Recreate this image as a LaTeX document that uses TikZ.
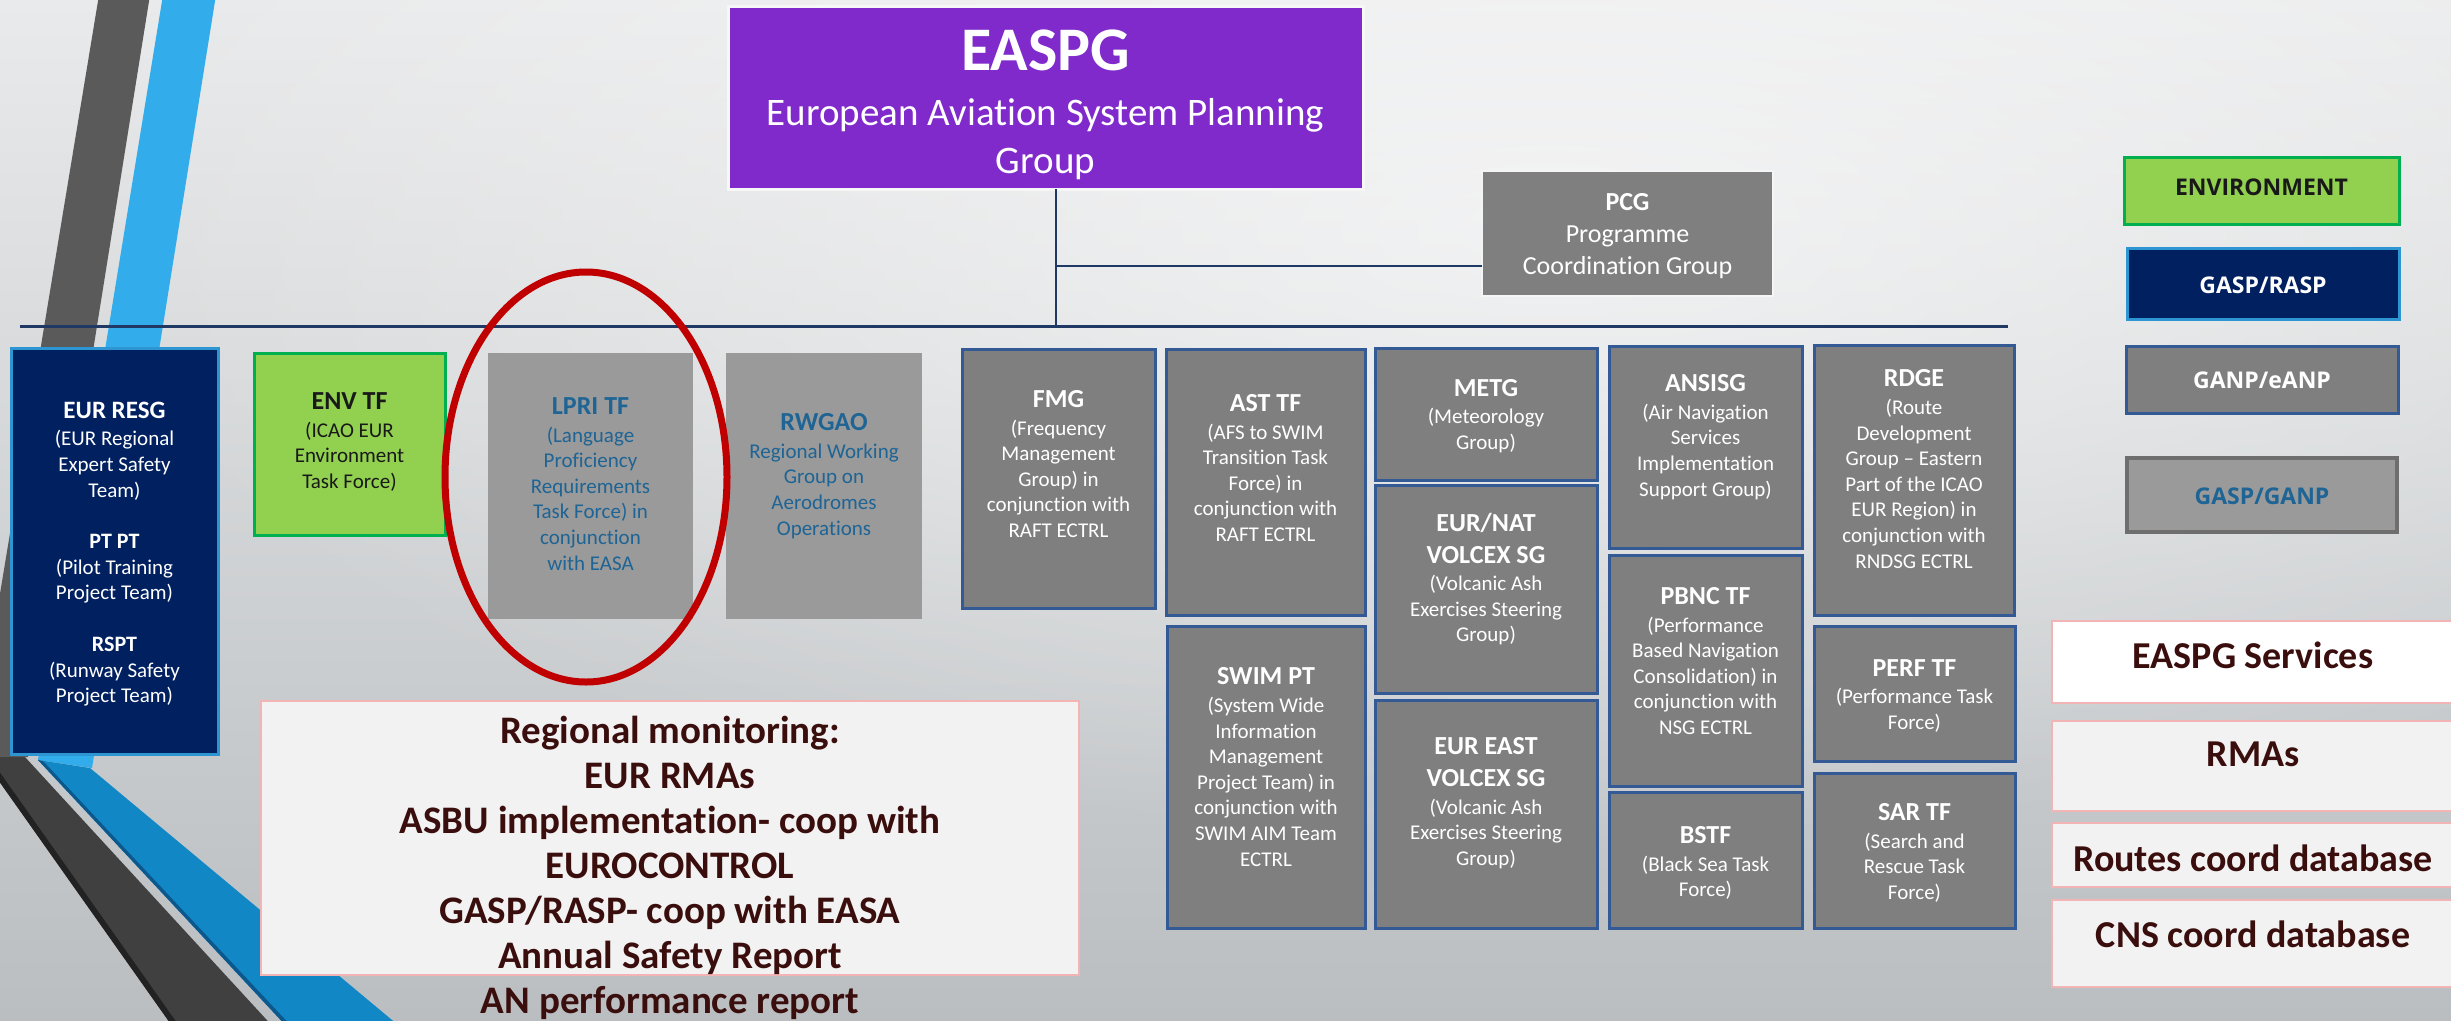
\documentclass[tikz,border=0pt]{standalone}
\usepackage{fontspec}
\setmainfont{Carlito}[Ligatures=NoCommon]
\newfontfamily\legendfont{Open Sans}
\usetikzlibrary{fadings,shapes.geometric}

\definecolor{bgtop}{RGB}{233,234,235}
\definecolor{bgmid}{RGB}{222,224,225}
\definecolor{bgbot}{RGB}{186,190,193}
\definecolor{stripegray}{RGB}{90,90,90}
\definecolor{stripedark}{RGB}{64,64,64}
\definecolor{stripeblack}{RGB}{34,34,34}
\definecolor{stripesky}{RGB}{50,172,234}
\definecolor{stripeblue}{RGB}{18,135,198}
\definecolor{stripedeep}{RGB}{12,88,140}
\definecolor{purplebox}{RGB}{128,42,204}
\definecolor{navybox}{RGB}{0,32,96}
\definecolor{navyedge}{RGB}{46,149,211}
\definecolor{greenbox}{RGB}{146,208,80}
\definecolor{greenedge}{RGB}{0,176,80}
\definecolor{boxgray}{RGB}{127,127,127}
\definecolor{boxedge}{RGB}{52,90,150}
\definecolor{palegray}{RGB}{154,154,154}
\definecolor{paleedge}{RGB}{110,110,110}
\definecolor{steeltext}{RGB}{30,100,148}
\definecolor{browntext}{RGB}{59,14,14}
\definecolor{pinkedge}{RGB}{242,180,180}
\definecolor{ringred}{RGB}{192,0,0}
\definecolor{busnavy}{RGB}{31,56,100}
\definecolor{paper}{RGB}{242,242,242}

\tikzfading[name=softglow, inner color=transparent!0, outer color=transparent!100]

\newcommand\boxtitle[1]{{\fontsize{26}{30}\selectfont\bfseries #1}}
\newcommand\subtitle[1]{{\fontsize{22}{26}\selectfont\bfseries #1}}

\tikzset{
  every node/.style={inner sep=0pt, outer sep=0pt},
  panel/.style={rectangle, inner sep=0pt, outer sep=0pt},
  graybox/.style={panel, fill=boxgray, draw=boxedge, line width=3pt},
  palebox/.style={panel, fill=palegray},
  navypanel/.style={panel, fill=navybox, draw=navyedge, line width=3pt},
  greenpanel/.style={panel, fill=greenbox, draw=greenedge, line width=3pt},
  paperbox/.style={panel, fill=paper, draw=pinkedge, line width=2pt},
  bodytext/.style={align=center, font=\fontsize{21}{25.6}\selectfont},
  whitetext/.style={bodytext, text=white},
  steeltxt/.style={bodytext, text=steeltext},
  legendtext/.style={align=center, font=\legendfont\fontsize{23}{28}\selectfont\bfseries},
  servicetext/.style={align=center, text=browntext, font=\fontsize{38}{44}\selectfont\bfseries},
  busline/.style={draw=busnavy, line width=3pt},
  trunkline/.style={draw=busnavy, line width=2pt},
}

\begin{document}
\begin{tikzpicture}[x=1pt,y=-1pt]
\useasboundingbox (0,0) rectangle (2451,1020);

% backdrop
\shade[top color=bgtop, middle color=bgmid, bottom color=bgbot] (0,0) rectangle (2451,1020);
\fill[white, path fading=softglow, fill opacity=0.6] (1550,230) ellipse [x radius=1500pt, y radius=620pt];

% slanted ribbons on the left edge
\begin{scope}
\clip (0,0) rectangle (2451,1020);
\fill[stripegray] (99,-5) -- (150,-5) -- (28,757) -- (-27,757) -- cycle;
\fill[stripesky] (163,-5) -- (216,-5) -- (92,768) -- (38,760) -- cycle;
\fill[stripedark] (-18,757) -- (25,757) -- (276,1030) -- (175,1030) -- cycle;
\fill[stripeblack] (-18,757) -- (-11,757) -- (182,1030) -- (175,1030) -- cycle;
\fill[stripeblue] (38,760) -- (90,768) -- (404,1030) -- (290,1030) -- cycle;
\fill[stripedeep] (38,760) -- (43,761) -- (295,1030) -- (290,1030) -- cycle;
\end{scope}

% head of the organisation
\node[panel, fill=purplebox, draw=white!94!gray, line width=3pt,
      minimum width=635pt, minimum height=183pt] (easpg) at (1045.5,97.5) {};
\node[align=center, text=white, font=\fontsize{39}{48}\selectfont] (easpg-t) at (1045.5,105)
  {{\fontsize{62}{70}\selectfont\bfseries EASPG}\\[7pt]European Aviation System Planning\\Group};

\node[panel, fill=boxgray, draw=white!92!gray, line width=2pt,
      minimum width=291pt, minimum height=125pt] (pcg) at (1627.5,233.5) {};
\node[align=center, text=white, font=\fontsize{26}{32}\selectfont] (pcg-t) at (1627.5,236)
  {\textbf{PCG}\\Programme\\Coordination Group};

% connectors
\coordinate (bus-west) at (20,326);
\coordinate (bus-east) at (2008,326);
\coordinate (trunk) at (1056,326);
\coordinate (branch) at (1056,266);
\draw[trunkline] (trunk |- easpg.south) -- (trunk);
\draw[trunkline] (branch) -- (branch -| pcg.west);
\draw[busline] (bus-west) -- (bus-east);

% safety column
\node[navypanel, minimum width=207pt, minimum height=406pt] (resg) at (114.5,551) {};
\node[whitetext] (resg-t) at (114.5,554)
  {{\fontsize{25}{30}\selectfont\bfseries EUR RESG}\\[2pt](EUR Regional\\Expert Safety\\Team)\\[26pt]
   \subtitle{PT PT}\\(Pilot Training\\Project Team)\\[26pt]
   \subtitle{RSPT}\\(Runway Safety\\Project Team)};

% environment
\node[greenpanel, minimum width=191pt, minimum height=182pt] (envtf) at (349.5,444) {};
\node[bodytext, text=black!90] (envtf-t) at (349.5,442)
  {\boxtitle{ENV TF}\\[2pt](ICAO EUR\\Environment\\Task Force)};

% safety / air navigation groups
\node[palebox, minimum width=205pt, minimum height=266pt] (lpri) at (590.5,486) {};
\node[steeltxt] (lpri-t) at (590.5,484)
  {\boxtitle{LPRI TF}\\[2pt](Language\\Proficiency\\Requirements\\Task Force) in\\conjunction\\with EASA};

\node[palebox, minimum width=196pt, minimum height=266pt] (rwgao) at (824,486) {};
\node[steeltxt] (rwgao-t) at (824,476)
  {\boxtitle{RWGAO}\\[2pt]Regional Working\\Group on\\Aerodromes\\Operations};

\node[ellipse, draw=ringred, line width=7pt, minimum width=282pt, minimum height=410pt] (lpri-ring) at (586,477) {};

% air navigation groups
\node[graybox, minimum width=193pt, minimum height=259pt] (fmg) at (1058.5,478.5) {};
\node[whitetext] (fmg-t) at (1058.5,464)
  {\boxtitle{FMG}\\[2pt](Frequency\\Management\\Group) in\\conjunction with\\RAFT ECTRL};

\node[graybox, minimum width=199pt, minimum height=266pt] (asttf) at (1265.5,482) {};
\node[whitetext] (asttf-t) at (1265.5,468)
  {\boxtitle{AST TF}\\[2pt](AFS to SWIM\\Transition Task\\Force) in\\conjunction with\\RAFT ECTRL};

\node[graybox, minimum width=198pt, minimum height=302pt] (swim) at (1266,777) {};
\node[whitetext] (swim-t) at (1266,767)
  {\boxtitle{SWIM PT}\\[2pt](System Wide\\Information\\Management\\Project Team) in\\conjunction with\\SWIM AIM Team\\ECTRL};

\node[graybox, minimum width=222pt, minimum height=132pt] (metg) at (1486,414) {};
\node[whitetext] (metg-t) at (1486,416)
  {\boxtitle{METG}\\[2pt](Meteorology\\Group)};

\node[graybox, minimum width=222pt, minimum height=208pt] (eurnat) at (1486,589) {};
\node[whitetext] (eurnat-t) at (1486,579)
  {\boxtitle{EUR/NAT}\\[6.4pt]\boxtitle{VOLCEX SG}\\[2pt](Volcanic Ash\\Exercises Steering\\Group)};

\node[graybox, minimum width=222pt, minimum height=228pt] (eureast) at (1486,814) {};
\node[whitetext] (eureast-t) at (1486,803)
  {\boxtitle{EUR EAST}\\[6.4pt]\boxtitle{VOLCEX SG}\\[2pt](Volcanic Ash\\Exercises Steering\\Group)};

\node[graybox, minimum width=193pt, minimum height=202pt] (ansisg) at (1705.5,447) {};
\node[whitetext] (ansisg-t) at (1705.5,437)
  {\boxtitle{ANSISG}\\[2pt](Air Navigation\\Services\\Implementation\\Support Group)};

\node[graybox, minimum width=193pt, minimum height=231pt] (pbnc) at (1705.5,670.5) {};
\node[whitetext] (pbnc-t) at (1705.5,661)
  {\boxtitle{PBNC TF}\\[2pt](Performance\\Based Navigation\\Consolidation) in\\conjunction with\\NSG ECTRL};

\node[graybox, minimum width=193pt, minimum height=136pt] (bstf) at (1705.5,860) {};
\node[whitetext] (bstf-t) at (1705.5,863)
  {\boxtitle{BSTF}\\[2pt](Black Sea Task\\Force)};

\node[graybox, minimum width=200pt, minimum height=270pt] (rdge) at (1914,480) {};
\node[whitetext] (rdge-t) at (1914,469)
  {\boxtitle{RDGE}\\[2pt](Route\\Development\\Group -- Eastern\\Part of the ICAO\\EUR Region) in\\conjunction with\\RNDSG ECTRL};

\node[graybox, minimum width=201pt, minimum height=135pt] (perf) at (1914.5,693.5) {};
\node[whitetext] (perf-t) at (1914.5,696)
  {\boxtitle{PERF TF}\\[2pt](Performance Task\\Force)};

\node[graybox, minimum width=201pt, minimum height=155pt] (sartf) at (1914.5,850.5) {};
\node[whitetext] (sartf-t) at (1914.5,853)
  {\boxtitle{SAR TF}\\[2pt](Search and\\Rescue Task\\Force)};

% regional monitoring
\node[paperbox, minimum width=818pt, minimum height=274pt] (monitor) at (670,838) {};
\node[align=center, text=browntext, font=\fontsize{39}{45}\selectfont\bfseries] (monitor-t) at (670,868)
  {Regional monitoring:\\EUR RMAs\\ASBU implementation- coop with\\EUROCONTROL\\GASP/RASP- coop with EASA\\Annual Safety Report\\AN performance report};

% colour legend
\node[greenpanel, minimum width=275pt, minimum height=67pt] (lg-env) at (2261.5,190.5) {};
\node[legendtext, text=black!90] (lg-env-t) at (2261.5,187) {ENVIRONMENT};
\node[navypanel, minimum width=272pt, minimum height=71pt] (lg-gasp) at (2263,283.5) {};
\node[legendtext, text=white] (lg-gasp-t) at (2263,285) {GASP/RASP};
\node[graybox, minimum width=272pt, minimum height=67pt] (lg-ganp) at (2262,379.5) {};
\node[legendtext, text=white] (lg-ganp-t) at (2262,380) {GANP/eANP};
\node[panel, fill=palegray, draw=paleedge, line width=4pt, minimum width=270pt, minimum height=74pt] (lg-both) at (2262,495) {};
\node[legendtext, text=steeltext] (lg-both-t) at (2262,496) {GASP/GANP};

% services
\node[paperbox, fill=white, minimum width=402pt, minimum height=82pt] (svc) at (2253,662) {};
\node[servicetext] (svc-t) at (2253,655) {EASPG Services};
\node[paperbox, minimum width=402pt, minimum height=90pt] (rmas) at (2253,766) {};
\node[servicetext] (rmas-t) at (2253,754) {RMAs};
\node[paperbox, minimum width=402pt, minimum height=64pt] (routes) at (2253,855) {};
\node[servicetext] (routes-t) at (2253,858) {Routes coord database};
\node[paperbox, minimum width=402pt, minimum height=87pt] (cns) at (2253,943.5) {};
\node[servicetext] (cns-t) at (2253,934) {CNS coord database};
\end{tikzpicture}
\end{document}
